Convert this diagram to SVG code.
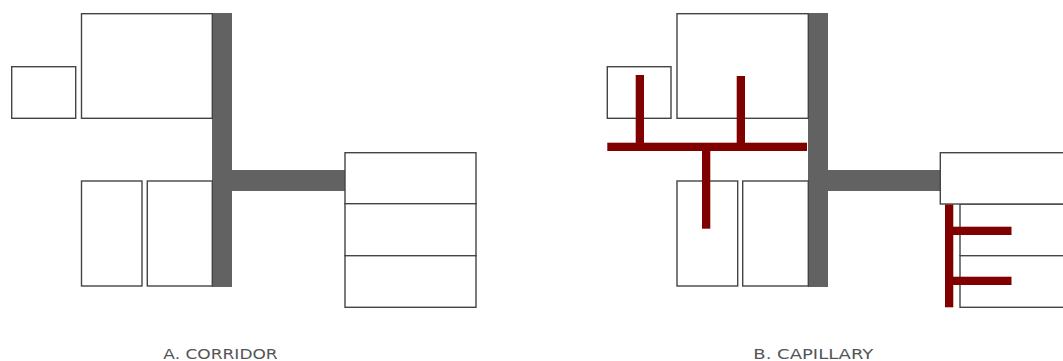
<svg xmlns="http://www.w3.org/2000/svg" width="1063" height="361" viewBox="0 0 1063 361">
<style>
.room{fill:#fff;stroke:#444;stroke-width:1.4}
.corr{fill:#626262}
.cap{fill:#800000}
.lbl{font-family:"DejaVu Sans","Liberation Sans",sans-serif;font-size:14px;fill:#555;font-weight:normal}
</style>
<rect width="1063" height="361" fill="#fff"/>
<g id="diagramA">
  <g id="a-corridor-v"><rect class="corr" x="212" y="13" width="20" height="274"/></g>
  <g id="a-corridor-h"><rect class="corr" x="231" y="170" width="114" height="21"/></g>
  <g id="a-room-small"><rect class="room" x="11.7" y="66.7" width="64" height="51.6"/></g>
  <g id="a-room-big"><rect class="room" x="81.5" y="13.7" width="130.8" height="104.6"/></g>
  <g id="a-room-bl"><rect class="room" x="81.5" y="181" width="60.5" height="105"/></g>
  <g id="a-room-br"><rect class="room" x="147.3" y="181" width="65" height="105"/></g>
  <g id="a-stack-1"><rect class="room" x="345" y="152.7" width="131" height="51"/></g>
  <g id="a-stack-2"><rect class="room" x="345" y="203.7" width="131" height="52"/></g>
  <g id="a-stack-3"><rect class="room" x="345" y="255.7" width="131" height="51.6"/></g>
  <text class="lbl" x="163.3" y="359" textLength="114.4" lengthAdjust="spacingAndGlyphs">A. CORRIDOR</text>
</g>
<g id="diagramB">
  <g id="b-corridor-v"><rect class="corr" x="808" y="13" width="20" height="274"/></g>
  <g id="b-corridor-h"><rect class="corr" x="827" y="170" width="114" height="21"/></g>
  <g id="b-room-small"><rect class="room" x="607.3" y="66.7" width="63.7" height="51.6"/></g>
  <g id="b-room-big"><rect class="room" x="677" y="13.7" width="131.3" height="104.6"/></g>
  <g id="b-room-bl"><rect class="room" x="677" y="181" width="60.7" height="105"/></g>
  <g id="b-room-br"><rect class="room" x="742.7" y="181" width="65.6" height="105"/></g>
  <g id="b-stack-2"><rect class="room" x="960" y="204" width="131" height="51.7"/></g>
  <g id="b-stack-3"><rect class="room" x="960" y="255.7" width="131" height="51.6"/></g>
  <g id="b-stack-1"><rect class="room" x="940.3" y="152.7" width="131" height="51.3"/></g>
  <g id="capillaries">
    <rect class="cap" x="607.3" y="142.7" width="199.7" height="8.3"/>
    <rect class="cap" x="635.7" y="75" width="8.3" height="68"/>
    <rect class="cap" x="736.7" y="76" width="8.3" height="67"/>
    <rect class="cap" x="702" y="150" width="8.3" height="78.7"/>
    <rect class="cap" x="945" y="204.5" width="8.3" height="102.8"/>
    <rect class="cap" x="953" y="226.7" width="58.5" height="8.3"/>
    <rect class="cap" x="953" y="276.7" width="58.5" height="8.3"/>
  </g>
  <text class="lbl" x="753.3" y="359" textLength="120" lengthAdjust="spacingAndGlyphs">B. CAPILLARY</text>
</g>
</svg>
